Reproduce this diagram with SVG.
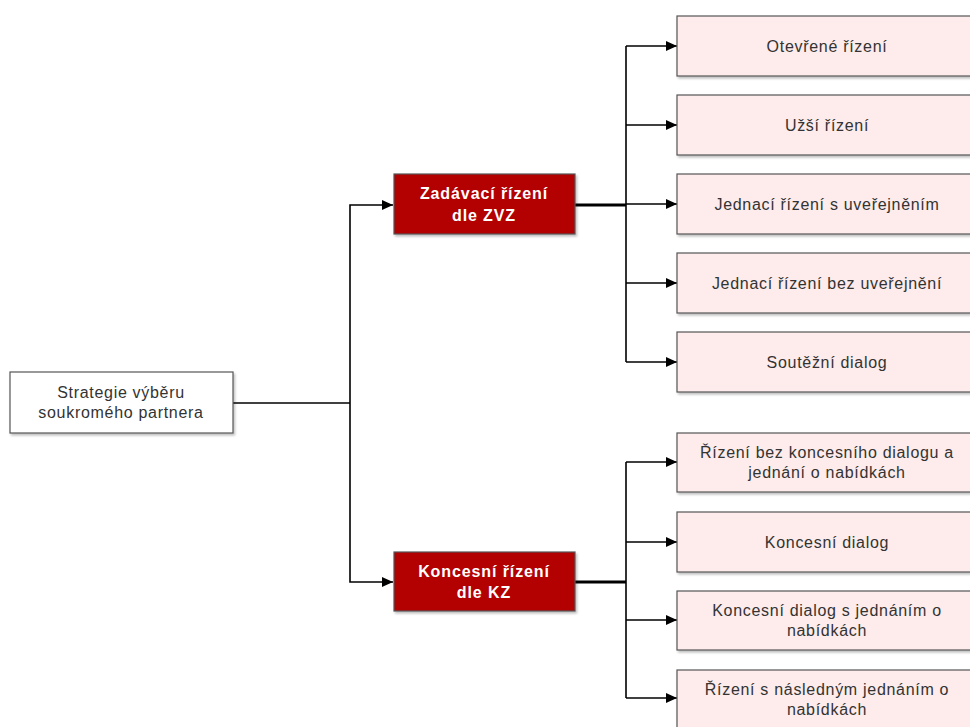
<svg xmlns="http://www.w3.org/2000/svg" width="970" height="727" viewBox="0 0 970 727">
<style>
  .box{stroke:#555;stroke-width:1.2}
  .root{fill:#fff}
  .main{fill:#b30000}
  .leaf{fill:#fdeceb}
  .t{font-family:"Liberation Sans",Arial,sans-serif;font-size:16px;fill:#333;text-anchor:middle;letter-spacing:0.7px}
  .tw{font-family:"Liberation Sans",Arial,sans-serif;font-size:16px;font-weight:bold;fill:#fff;text-anchor:middle;letter-spacing:0.9px}
  .c{fill:none;stroke:#000;stroke-width:1.6}
  .ct{fill:none;stroke:#000;stroke-width:3}
  .a{marker-end:url(#arr)}
</style>
<defs>
  <marker id="arr" markerUnits="userSpaceOnUse" markerWidth="12" markerHeight="10" refX="11" refY="5" orient="auto">
    <path d="M0,0 L11,5 L0,10 z" fill="#000"/>
  </marker>
  <filter id="sh" x="-5%" y="-5%" width="115%" height="125%">
    <feDropShadow dx="1.5" dy="2" stdDeviation="1" flood-color="#000" flood-opacity="0.25"/>
  </filter>
</defs>
<rect width="970" height="727" fill="#fff"/>
<g id="connectors">
  <path class="c" d="M233,403 H350"/>
  <path class="c a" d="M350,403 V205 H393"/>
  <path class="c a" d="M350,403 V582 H393"/>
  <path class="ct" d="M575,205 H626"/>
  <path class="c" d="M626,46 V362"/>
  <path class="c a" d="M626,46 H677"/>
  <path class="c a" d="M626,125 H677"/>
  <path class="c a" d="M626,204 H677"/>
  <path class="c a" d="M626,283 H677"/>
  <path class="c a" d="M626,362 H677"/>
  <path class="ct" d="M575,582 H626"/>
  <path class="c" d="M626,462 V698"/>
  <path class="c a" d="M626,462 H677"/>
  <path class="c a" d="M626,542 H677"/>
  <path class="c a" d="M626,620 H677"/>
  <path class="c a" d="M626,698 H677"/>
</g>
<g id="root">
  <rect class="box root" x="10" y="372" width="223" height="61" filter="url(#sh)"/>
  <text class="t" x="121" y="398">Strategie výběru</text>
  <text class="t" x="121" y="418">soukromého partnera</text>
</g>
<g id="zvz">
  <rect class="box main" x="394" y="174" width="181" height="60" filter="url(#sh)"/>
  <text class="tw" x="484" y="199">Zadávací řízení</text>
  <text class="tw" x="484" y="221">dle ZVZ</text>
</g>
<g id="kz">
  <rect class="box main" x="394" y="552" width="181" height="59" filter="url(#sh)"/>
  <text class="tw" x="484" y="577">Koncesní řízení</text>
  <text class="tw" x="484" y="598">dle KZ</text>
</g>
<g id="otevrene">
  <rect class="box leaf" x="677" y="16" width="300" height="60" filter="url(#sh)"/>
  <text class="t" x="827" y="52">Otevřené řízení</text>
</g>
<g id="uzsi">
  <rect class="box leaf" x="677" y="95" width="300" height="60" filter="url(#sh)"/>
  <text class="t" x="827" y="131">Užší řízení</text>
</g>
<g id="jednaci-s">
  <rect class="box leaf" x="677" y="174" width="300" height="60" filter="url(#sh)"/>
  <text class="t" x="827" y="210">Jednací řízení s uveřejněním</text>
</g>
<g id="jednaci-bez">
  <rect class="box leaf" x="677" y="253" width="300" height="60" filter="url(#sh)"/>
  <text class="t" x="827" y="289">Jednací řízení bez uveřejnění</text>
</g>
<g id="soutezni">
  <rect class="box leaf" x="677" y="332" width="300" height="60" filter="url(#sh)"/>
  <text class="t" x="827" y="368">Soutěžní dialog</text>
</g>
<g id="rizeni-bez">
  <rect class="box leaf" x="677" y="433" width="300" height="59" filter="url(#sh)"/>
  <text class="t" x="827" y="458">Řízení bez koncesního dialogu a</text>
  <text class="t" x="827" y="478">jednání o nabídkách</text>
</g>
<g id="koncesni-dialog">
  <rect class="box leaf" x="677" y="512" width="300" height="60" filter="url(#sh)"/>
  <text class="t" x="827" y="548">Koncesní dialog</text>
</g>
<g id="koncesni-dialog-s">
  <rect class="box leaf" x="677" y="591" width="300" height="59" filter="url(#sh)"/>
  <text class="t" x="827" y="616">Koncesní dialog s jednáním o</text>
  <text class="t" x="827" y="636">nabídkách</text>
</g>
<g id="rizeni-s">
  <rect class="box leaf" x="677" y="670" width="300" height="60" filter="url(#sh)"/>
  <text class="t" x="827" y="695">Řízení s následným jednáním o</text>
  <text class="t" x="827" y="715">nabídkách</text>
</g>
</svg>
